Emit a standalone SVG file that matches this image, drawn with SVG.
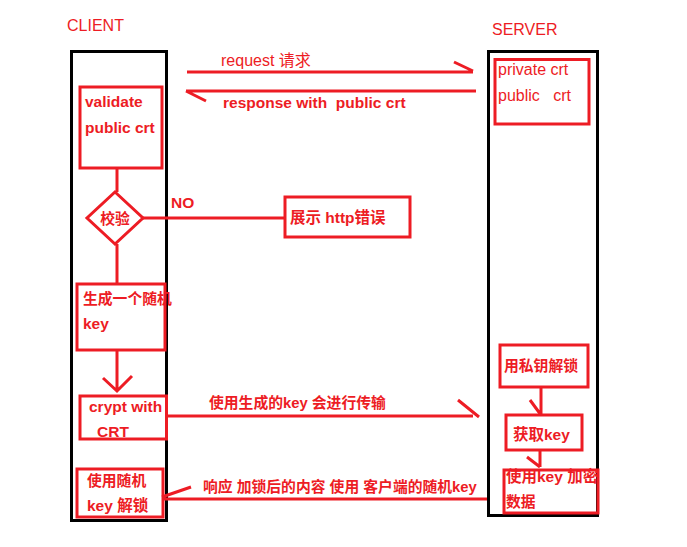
<svg xmlns="http://www.w3.org/2000/svg" width="687" height="547" viewBox="0 0 687 547">
<style>
.lane{fill:none;stroke:#000;stroke-width:3}
.box{fill:none;stroke:#ed1c24;stroke-width:3}
.ln{fill:none;stroke:#ed1c24;stroke-width:3}
text{font-family:"Liberation Sans","Noto Sans CJK SC",sans-serif;font-size:15px;fill:#ed1c24;white-space:pre}
.n{font-size:16px}
.b{font-weight:bold;font-size:15.5px}
.c{font-weight:bold;font-size:14.8px}
</style>
<rect width="687" height="547" fill="#fff"/>
<g id="client-lane">
<rect class="lane" x="71.5" y="51.5" width="95" height="469"/>
<text class="n" x="67" y="31">CLIENT</text>
</g>
<g id="server-lane">
<rect class="lane" x="488.5" y="51.5" width="109" height="464"/>
<text class="n" x="492" y="35">SERVER</text>
</g>
<g id="connectors">
<path class="ln" d="M187 72H473M454 62L473 71"/>
<text class="n" x="221" y="66">request 请求</text>
<path class="ln" d="M476 91H186M186 91L206 101"/>
<text class="b" x="223" y="108" xml:space="preserve">response with  public crt</text>
<path class="ln" d="M117 168V192"/>
<path class="ln" d="M143 218H285"/>
<text class="b" x="171" y="208">NO</text>
<path class="ln" d="M117 244V284"/>
<path class="ln" d="M117 350V391M103 378L117 391L132 376"/>
<path class="ln" d="M166 416H473M458 400L479 417"/>
<text class="c" x="209" y="408">使用生成的key 会进行传输</text>
<path class="ln" d="M487 499H162M162 497L191 487"/>
<text class="c" x="203" y="492">响应 加锁后的内容 使用 客户端的随机key</text>
<path class="ln" d="M541 387V415M530 400L541 415"/>
<path class="ln" d="M540 450V467M527 457L540 467"/>
</g>
<g id="server-crt">
<rect class="box" x="495" y="59.5" width="94" height="64.5"/>
<text class="n" x="498" y="75">private crt</text>
<text class="n" x="498" y="101" xml:space="preserve">public   crt</text>
</g>
<g id="validate">
<rect class="box" x="80" y="87" width="82" height="81"/>
<text class="b" x="85" y="107">validate</text>
<text class="b" x="85" y="133">public crt</text>
</g>
<g id="check">
<path class="box" d="M115 192L143 218L115 244L87 218Z"/>
<text class="c" x="115" y="224" text-anchor="middle">校验</text>
</g>
<g id="http-error">
<rect class="box" x="285" y="197" width="125" height="40"/>
<text class="b" x="290" y="223">展示 http错误</text>
</g>
<g id="gen-key">
<rect class="box" x="77" y="284" width="88" height="66"/>
<text class="c" x="83" y="304">生成一个随机</text>
<text class="b" x="83" y="329">key</text>
</g>
<g id="crypt">
<rect class="box" x="80" y="396" width="86.5" height="43"/>
<text class="b" x="89" y="412">crypt with</text>
<text class="b" x="97" y="437">CRT</text>
</g>
<g id="decrypt-client">
<rect class="box" x="77" y="469" width="86" height="48"/>
<text class="c" x="87" y="486">使用随机</text>
<text class="b" x="87" y="511">key 解锁</text>
</g>
<g id="private-decrypt">
<rect class="box" x="500" y="345" width="88" height="42"/>
<text class="c" x="504" y="371">用私钥解锁</text>
</g>
<g id="get-key">
<rect class="box" x="506" y="415" width="76" height="35"/>
<text class="b" x="513" y="440">获取key</text>
</g>
<g id="encrypt">
<rect class="box" x="504" y="470" width="94" height="43"/>
<text class="b" x="506" y="482">使用key 加密</text>
<text class="c" x="506" y="507">数据</text>
</g>
</svg>
